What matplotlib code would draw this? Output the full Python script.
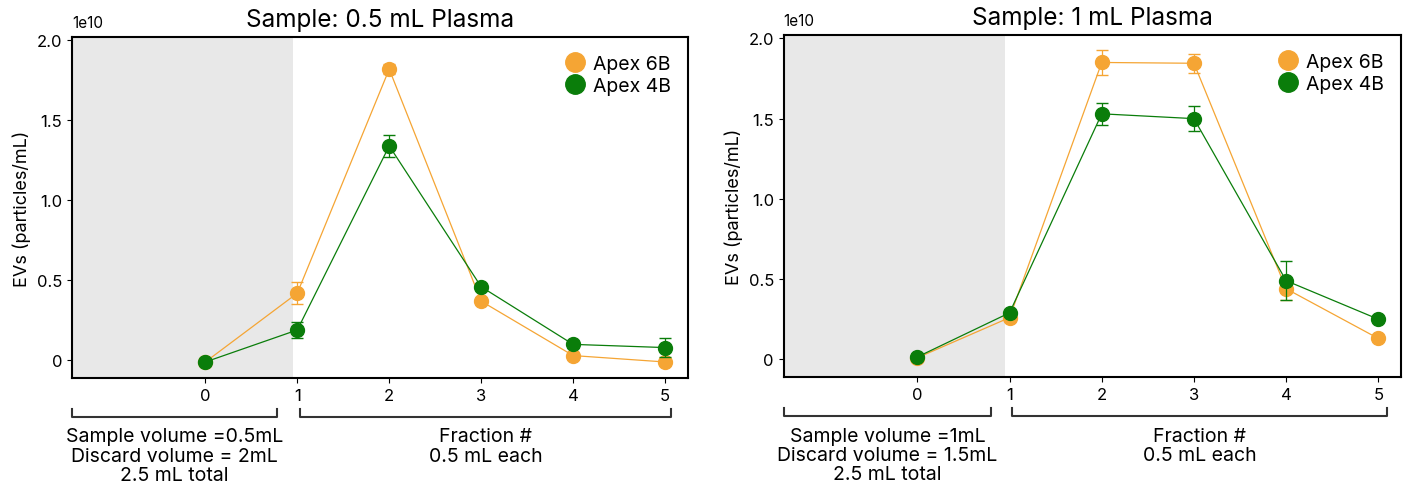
import matplotlib.pyplot as plt
from matplotlib import transforms
from matplotlib.lines import Line2D

plt.rcParams['font.family'] = ['Inter', 'DejaVu Sans']

# fractions
fractions = [0, 1, 2, 3, 4, 5]

# Sample: 0.5 mL Plasma (values in 1e10 particles/mL)
left_6b = [-0.01, 0.42, 1.82, 0.37, 0.03, -0.01]
left_6b_err = [0.01, 0.07, 0.03, 0.02, 0.02, 0.02]
left_4b = [-0.01, 0.19, 1.34, 0.46, 0.10, 0.08]
left_4b_err = [0.01, 0.05, 0.07, 0.02, 0.02, 0.06]

# Sample: 1 mL Plasma
right_6b = [0.01, 0.26, 1.85, 1.845, 0.44, 0.13]
right_6b_err = [0.01, 0.02, 0.08, 0.06, 0.07, 0.01]
right_4b = [0.015, 0.29, 1.53, 1.50, 0.49, 0.25]
right_4b_err = [0.01, 0.02, 0.07, 0.08, 0.12, 0.01]

titles = ['Sample: 0.5 mL Plasma', 'Sample: 1 mL Plasma']
sample_notes = ['Sample volume =0.5mL\nDiscard volume = 2mL\n2.5 mL total',
                'Sample volume =1mL\nDiscard volume = 1.5mL\n2.5 mL total']
fraction_note = 'Fraction #\n0.5 mL each'

orange = '#F5A534'
green = '#0A7D0A'

fig = plt.figure(figsize=(14.07, 4.89), dpi=100)
ax1 = fig.add_axes([0.0512, 0.225, 0.4378, 0.697])
ax2 = fig.add_axes([0.557, 0.227, 0.439, 0.699])

panels = [(ax1, left_6b, left_6b_err, left_4b, left_4b_err, (0.78, 1.03, 5.07)),
          (ax2, right_6b, right_6b_err, right_4b, right_4b_err, (0.80, 1.03, 5.09))]

for i, (ax, y6, e6, y4, e4, br) in enumerate(panels):
    ax.axvspan(-1.45, 0.95, color='#e8e8e8', lw=0, zorder=0)
    ax.errorbar(fractions, y6, yerr=e6, color=orange, marker='o', markersize=10,
                lw=0.9, capsize=4, elinewidth=0.9, zorder=3)
    ax.errorbar(fractions, y4, yerr=e4, color=green, marker='o', markersize=10,
                lw=0.9, capsize=4, elinewidth=0.9, zorder=4)
    ax.set_xlim(-1.45, 5.25)
    ax.set_ylim(-0.11, 2.02)
    ax.set_xticks(fractions)
    ax.set_yticks([0, 0.5, 1.0, 1.5, 2.0])
    ax.set_yticklabels(['0', '0.5', '1.0', '1.5', '2.0'])
    ax.tick_params(labelsize=12)
    for s in ax.spines.values():
        s.set_linewidth(1.5)
    ax.set_ylabel('EVs (particles/mL)', fontsize=13)
    ax.set_title(titles[i], fontsize=17.5, pad=8)
    ax.text(0.0, 1.02, '1e10', transform=ax.transAxes, fontsize=11, ha='left', va='bottom')
    handles = [Line2D([], [], color=orange, marker='o', ls='', markersize=14),
               Line2D([], [], color=green, marker='o', ls='', markersize=14)]
    ax.legend(handles, ['Apex 6B', 'Apex 4B'], loc='upper right', frameon=False,
              fontsize=14, handlelength=1.0, handletextpad=0.4, labelspacing=0.2,
              borderaxespad=0.5)

    # brackets under the x axis
    trans = transforms.blended_transform_factory(ax.transData, ax.transAxes)
    x0 = -1.45
    ax.plot([x0, x0, br[0], br[0]], [-0.09, -0.114, -0.114, -0.09], color='#333333',
            lw=1.5, transform=trans, clip_on=False)
    ax.plot([br[1], br[1], br[2], br[2]], [-0.09, -0.114, -0.114, -0.09], color='#333333',
            lw=1.5, transform=trans, clip_on=False)
    ax.text((x0 + br[0]) / 2, -0.145, sample_notes[i], transform=trans, ha='center',
            va='top', fontsize=14, linespacing=1.1)
    ax.text((br[1] + br[2]) / 2, -0.145, fraction_note, transform=trans, ha='center',
            va='top', fontsize=14, linespacing=1.1)

plt.savefig('out.png', dpi=100)
